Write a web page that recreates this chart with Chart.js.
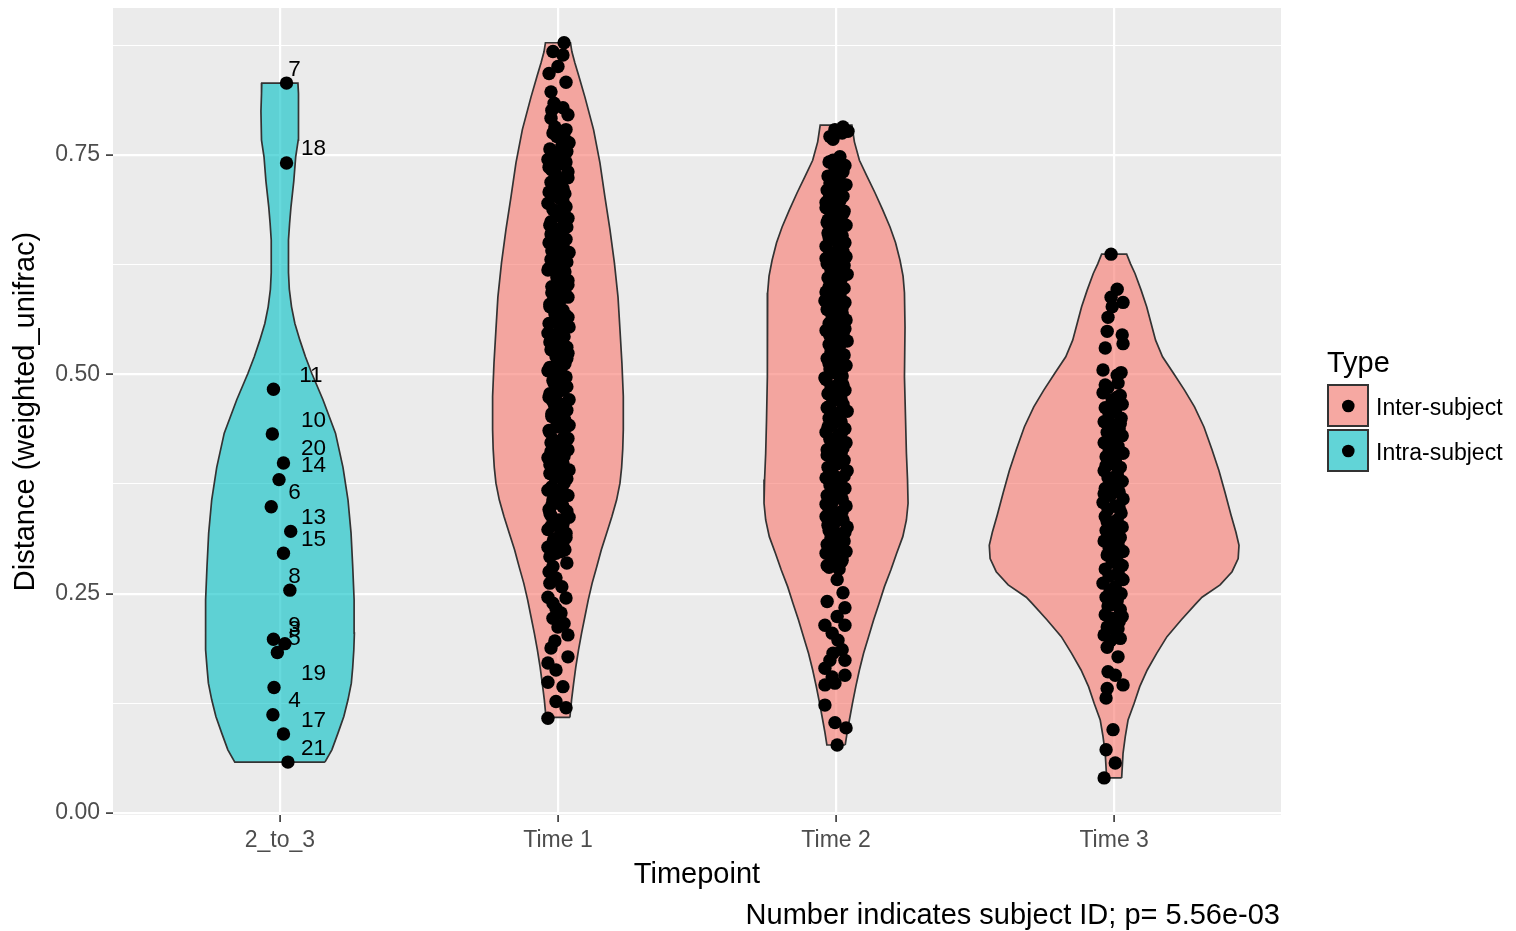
<!DOCTYPE html>
<html>
<head>
<meta charset="utf-8">
<script src="https://cdn.jsdelivr.net/npm/chart.js@4.4.1/dist/chart.umd.min.js"></script>
<style>
  html, body { margin: 0; padding: 0; background: #ffffff; }
  #wrap { width: 1516px; height: 931px; position: relative; }
  canvas { display: block; }
</style>
</head>
<body>
<div id="wrap"><canvas id="c" width="1516" height="931"></canvas></div>
<script>
// ---------------- DATA ----------------
const categories = ['2_to_3', 'Time 1', 'Time 2', 'Time 3'];
const yTickValues = [0, 0.25, 0.5, 0.75];
const yTickLabels = ['0.00', '0.25', '0.50', '0.75'];
const yMinorValues = [0.125, 0.375, 0.625, 0.875];
const legendTitle = 'Type';
const legendTypes = ['Inter-subject', 'Intra-subject'];
const xTitle = 'Timepoint';
const yTitle = 'Distance (weighted_unifrac)';
const captionText = 'Number indicates subject ID; p= 5.56e-03';

// Violin density outlines: distance levels and half widths (x-axis units)
const violinIntraLevels = [0.058,0.072,0.091,0.110,0.129,0.148,0.166,0.186,0.205,0.243,0.281,0.319,0.357,0.394,0.433,0.471,0.501,0.520,0.539,0.558,0.577,0.597,0.616,0.635,0.653,0.672,0.691,0.720,0.748,0.767,0.800,0.820,0.832];
const violinIntraHalf   = [0.162,0.187,0.209,0.230,0.245,0.257,0.262,0.266,0.268,0.267,0.262,0.256,0.245,0.227,0.200,0.155,0.115,0.092,0.072,0.054,0.042,0.034,0.031,0.031,0.031,0.035,0.040,0.050,0.057,0.066,0.068,0.066,0.065];

const violinT1Levels = [0.109,0.129,0.147,0.166,0.186,0.205,0.224,0.243,0.262,0.280,0.300,0.319,0.338,0.357,0.376,0.394,0.415,0.437,0.475,0.513,0.551,0.588,0.627,0.665,0.702,0.741,0.779,0.816,0.840,0.855,0.868,0.878];
const violinT1Half   = [0.043,0.049,0.056,0.064,0.074,0.085,0.097,0.109,0.123,0.139,0.156,0.175,0.194,0.211,0.223,0.229,0.233,0.235,0.235,0.230,0.223,0.216,0.203,0.187,0.169,0.151,0.128,0.097,0.075,0.061,0.050,0.045];

const violinT2Levels = [0.0775,0.092,0.106,0.125,0.144,0.163,0.182,0.201,0.220,0.239,0.258,0.277,0.296,0.315,0.334,0.353,0.380,0.410,0.448,0.497,0.554,0.593,0.612,0.630,0.650,0.668,0.688,0.707,0.726,0.744,0.765,0.784];
const violinT2Half   = [0.033,0.040,0.048,0.059,0.071,0.084,0.099,0.117,0.135,0.155,0.174,0.197,0.218,0.240,0.253,0.259,0.257,0.253,0.250,0.246,0.248,0.246,0.241,0.230,0.214,0.194,0.167,0.140,0.111,0.084,0.066,0.057];

const violinT3Levels = [0.040,0.068,0.087,0.106,0.125,0.144,0.163,0.182,0.201,0.220,0.239,0.246,0.260,0.275,0.290,0.305,0.320,0.340,0.365,0.390,0.414,0.440,0.463,0.482,0.501,0.520,0.539,0.558,0.577,0.596,0.615,0.626,0.637];
const violinT3Half   = [0.027,0.032,0.040,0.050,0.072,0.092,0.119,0.153,0.190,0.241,0.295,0.316,0.381,0.424,0.446,0.449,0.438,0.420,0.399,0.377,0.352,0.323,0.289,0.253,0.214,0.174,0.149,0.133,0.117,0.097,0.075,0.059,0.045];

// Intra-subject distances (2_to_3) with subject IDs
const intraIds    = ['7','18','11','10','20','14','6','13','15','8','9','3','5','19','4','17','21'];
const intraY      = [0.832,0.741,0.483,0.432,0.399,0.380,0.349,0.321,0.296,0.254,0.198,0.193,0.183,0.143,0.112,0.090,0.058];
const intraJitter = [0.024,0.024,-0.023,-0.027,0.013,-0.003,-0.031,0.039,0.013,0.036,-0.023,0.018,-0.009,-0.021,-0.025,0.013,0.029];

// Inter-subject distances, Time 1
const time1Y = [
  0.878,0.868,0.864,0.851,0.843,0.833,0.822,0.809,0.804,0.801,
  0.796,0.792,0.782,0.776,0.775,0.768,0.764,0.757,0.752,0.748,
  0.745,0.742,0.736,0.731,0.727,0.722,0.716,0.712,0.708,0.704,
  0.701,0.695,0.691,0.688,0.684,0.681,0.678,0.674,0.670,0.666,
  0.662,0.658,0.654,0.650,0.647,0.643,0.639,0.635,0.631,0.628,
  0.624,0.621,0.619,0.615,0.611,0.607,0.604,0.600,0.597,0.593,
  0.588,0.584,0.580,0.577,0.573,0.569,0.565,0.562,0.558,0.554,
  0.550,0.547,0.543,0.539,0.535,0.531,0.528,0.524,0.520,0.516,
  0.512,0.508,0.504,0.500,0.497,0.493,0.490,0.486,0.482,0.478,
  0.474,0.471,0.467,0.463,0.459,0.455,0.452,0.448,0.444,0.442,
  0.440,0.436,0.434,0.429,0.425,0.422,0.418,0.414,0.410,0.405,
  0.402,0.399,0.395,0.391,0.387,0.383,0.379,0.376,0.372,0.368,
  0.365,0.362,0.358,0.357,0.353,0.349,0.346,0.342,0.337,0.334,
  0.331,0.327,0.323,0.319,0.316,0.312,0.309,0.308,0.303,0.300,
  0.296,0.292,0.285,0.275,0.268,0.258,0.246,0.245,0.239,0.228,
  0.222,0.212,0.203,0.196,0.188,0.178,0.171,0.163,0.149,0.144,
  0.127,0.120,0.108,
  0.779,0.771,0.760,0.754,0.739,0.733,0.724,0.719,0.706,0.697,
  0.686,0.676,0.668,0.660,0.652,0.641,0.633,0.626,0.617,0.609,
  0.602,0.595,0.586,0.575,0.567,0.556,0.545,0.537,0.526,0.518,
  0.510,0.502,0.495,0.488,0.480,0.469,0.461,0.450,0.438,0.427,
  0.420,0.412,0.407,0.397,0.389,0.381,0.370,0.360,0.351,0.344,
  0.339,0.329,0.321,0.314,0.305,0.298,0.281,0.262,0.233,0.216
];
const time1Jitter = [
  0.022,-0.018,0.018,0.000,-0.032,0.029,-0.025,-0.014,0.018,-0.022,
  0.036,-0.025,-0.011,0.011,-0.018,0.025,0.040,-0.029,-0.022,0.007,
  -0.036,0.029,-0.032,0.036,-0.007,0.018,-0.007,0.018,-0.032,-0.018,
  0.004,-0.036,0.029,-0.018,0.018,-0.004,0.036,-0.025,-0.029,0.007,
  0.011,-0.014,0.029,-0.032,-0.014,0.022,0.040,-0.007,-0.025,0.032,
  0.018,-0.032,-0.036,0.004,-0.004,0.036,0.029,-0.022,0.007,-0.022,
  0.036,-0.004,-0.029,-0.029,0.018,-0.011,0.036,-0.007,-0.032,0.040,
  0.011,-0.036,0.022,0.011,-0.018,0.032,-0.025,0.036,-0.007,0.000,
  0.025,-0.029,-0.036,0.014,0.029,-0.018,-0.014,0.032,0.018,-0.029,
  -0.032,0.040,0.004,-0.011,0.032,-0.022,-0.022,0.025,0.011,0.040,
  -0.007,-0.032,-0.029,0.022,-0.014,-0.025,0.014,0.036,-0.018,-0.036,
  0.004,0.018,-0.011,0.040,-0.029,-0.011,0.025,0.022,-0.022,-0.036,
  0.007,0.036,-0.007,-0.018,0.014,0.018,-0.032,-0.029,0.040,0.004,
  -0.011,-0.025,-0.036,0.029,0.007,-0.014,-0.018,0.018,-0.036,0.025,
  -0.007,-0.029,0.032,-0.032,-0.007,0.014,-0.036,0.029,-0.018,0.011,
  -0.018,0.000,0.036,-0.011,-0.025,0.036,-0.036,-0.007,-0.036,0.018,
  -0.007,0.029,-0.036,
  0.029,-0.004,0.014,0.032,0.000,-0.022,0.036,-0.025,0.025,0.018,
  0.000,0.022,0.032,-0.025,-0.004,-0.022,0.011,-0.011,0.025,0.018,
  0.036,0.025,0.011,0.000,0.029,0.004,-0.014,-0.029,0.007,0.032,
  -0.004,-0.018,-0.007,0.004,0.000,-0.018,0.018,0.004,0.025,0.036,
  -0.004,-0.025,0.022,-0.029,0.007,0.032,0.014,0.018,-0.022,0.032,
  -0.025,0.018,0.011,0.029,0.004,0.011,-0.018,-0.029,-0.007,0.022
];

// Inter-subject distances, Time 2
const time2Y = [
  0.782,0.779,0.777,0.775,0.771,0.768,0.748,0.744,0.738,0.735,
  0.731,0.726,0.722,0.718,0.714,0.710,0.706,0.701,0.698,0.694,
  0.690,0.686,0.681,0.678,0.673,0.670,0.666,0.661,0.658,0.654,
  0.650,0.646,0.642,0.638,0.634,0.630,0.626,0.622,0.618,0.614,
  0.610,0.606,0.602,0.598,0.594,0.590,0.586,0.582,0.578,0.574,
  0.570,0.566,0.562,0.558,0.554,0.550,0.546,0.542,0.538,0.534,
  0.530,0.526,0.522,0.518,0.514,0.510,0.506,0.502,0.498,0.494,
  0.490,0.486,0.482,0.478,0.474,0.470,0.466,0.462,0.458,0.454,
  0.450,0.446,0.442,0.438,0.434,0.430,0.426,0.422,0.418,0.414,
  0.410,0.406,0.402,0.398,0.394,0.390,0.386,0.382,0.378,0.374,
  0.370,0.366,0.362,0.358,0.354,0.350,0.346,0.342,0.338,0.334,
  0.330,0.326,0.322,0.318,0.314,0.310,0.306,0.302,0.298,0.294,
  0.290,0.286,0.282,0.278,0.266,0.251,0.241,0.234,0.224,0.214,
  0.214,0.205,0.197,0.186,0.182,0.174,0.174,0.165,0.157,0.155,
  0.148,0.146,0.123,0.103,0.097,0.0775,
  0.742,0.733,0.724,0.716,0.708,0.703,0.696,0.688,0.683,0.676,
  0.668,0.663,0.656,0.648,0.640,0.632,0.624,0.616,0.608,0.600,
  0.592,0.584,0.576,0.568,0.560,0.552,0.544,0.536,0.528,0.520,
  0.512,0.504,0.496,0.488,0.480,0.472,0.464,0.456,0.448,0.440,
  0.432,0.424,0.416,0.408,0.400,0.392,0.384,0.376,0.368,0.360,
  0.352,0.344,0.336,0.328,0.320,0.312,0.304,0.296,0.288,0.280
];
const time2Jitter = [
  0.025,-0.004,0.043,0.022,-0.022,-0.011,0.014,-0.011,0.032,-0.004,
  0.025,-0.029,0.011,-0.022,0.022,-0.032,0.004,-0.025,0.014,-0.011,
  -0.036,0.029,-0.018,0.007,-0.032,0.036,-0.007,-0.029,0.022,-0.014,
  0.032,-0.036,0.007,-0.022,0.036,-0.004,-0.032,0.018,-0.018,0.040,
  -0.029,0.004,-0.011,0.029,-0.036,0.014,-0.022,0.032,-0.004,-0.032,
  0.022,-0.014,0.036,-0.025,0.007,-0.036,0.025,-0.007,0.040,-0.025,
  0.011,-0.018,0.029,-0.032,0.004,0.036,-0.022,-0.007,0.022,-0.036,
  0.011,-0.018,0.032,-0.029,0.004,-0.011,0.025,-0.032,0.040,-0.004,
  -0.025,0.018,-0.014,0.032,-0.036,0.007,-0.022,0.036,-0.007,-0.032,
  0.018,-0.018,0.029,0.004,-0.029,0.040,-0.011,-0.036,0.014,-0.022,
  0.032,-0.004,-0.032,0.022,-0.014,0.036,-0.025,0.007,-0.036,0.025,
  -0.007,0.040,-0.025,0.011,-0.018,0.029,-0.032,0.004,0.036,-0.022,
  -0.004,0.018,-0.032,0.011,0.004,0.025,-0.032,0.032,0.004,-0.040,
  0.032,-0.014,0.007,0.022,-0.011,-0.022,0.032,-0.040,0.032,-0.014,
  -0.004,-0.040,-0.040,-0.004,0.036,0.004,
  -0.025,0.011,-0.014,0.036,-0.011,0.025,-0.036,0.007,0.025,-0.029,
  0.018,0.004,-0.025,0.011,0.025,-0.036,0.029,0.004,0.018,-0.025,
  0.007,-0.040,0.022,0.004,-0.018,0.032,-0.022,0.018,-0.014,0.011,
  -0.025,0.018,-0.040,0.025,-0.004,0.018,-0.022,0.011,0.004,-0.029,
  0.018,0.000,0.025,-0.032,0.011,-0.018,0.029,-0.007,-0.014,0.011,
  -0.036,0.022,0.007,-0.029,0.032,-0.007,0.018,-0.036,0.022,-0.025
];

// Inter-subject distances, Time 3
const time3Y = [
  0.637,0.597,0.588,0.582,0.577,0.565,0.549,0.545,0.535,0.530,
  0.505,0.499,0.490,0.485,0.479,0.476,0.471,0.466,0.462,0.458,
  0.454,0.450,0.446,0.442,0.438,0.434,0.430,0.426,0.422,0.418,
  0.414,0.410,0.406,0.402,0.398,0.394,0.390,0.386,0.382,0.378,
  0.374,0.370,0.366,0.362,0.358,0.354,0.350,0.346,0.342,0.338,
  0.334,0.330,0.326,0.322,0.318,0.314,0.310,0.306,0.302,0.298,
  0.294,0.290,0.286,0.282,0.278,0.274,0.270,0.266,0.262,0.258,
  0.254,0.250,0.246,0.242,0.238,0.232,0.226,0.222,0.218,0.212,
  0.208,0.203,0.199,0.196,0.189,0.178,0.161,0.157,0.146,0.142,
  0.131,0.095,0.072,0.057,0.040,
  0.502,0.488,0.474,0.456,0.444,0.428,0.412,0.396,0.380,0.364,
  0.348,0.332,0.316,0.300,0.284,0.268,0.252,0.236,0.224,0.210
];
const time3Jitter = [
  -0.011,0.011,-0.011,0.032,-0.007,-0.022,-0.025,0.029,0.032,-0.032,
  -0.040,0.011,0.014,-0.022,-0.040,0.022,-0.007,0.029,-0.032,0.004,
  -0.018,0.025,-0.036,0.000,0.018,-0.025,0.029,-0.011,-0.036,0.014,
  -0.018,0.032,-0.029,0.004,-0.011,0.022,-0.036,0.011,-0.022,0.029,
  -0.007,-0.032,0.018,-0.014,0.032,-0.040,0.004,-0.022,0.025,-0.032,
  0.011,-0.011,0.029,-0.029,0.000,0.022,-0.036,0.014,-0.018,0.032,
  -0.025,0.007,-0.007,0.029,-0.032,0.014,-0.018,0.032,-0.040,0.004,
  -0.014,0.025,-0.029,0.011,-0.004,0.022,-0.032,-0.007,0.018,-0.025,
  0.004,-0.036,0.022,-0.014,-0.025,0.014,-0.022,0.004,0.032,-0.025,
  -0.029,-0.004,-0.029,0.004,-0.036,
  0.025,-0.032,0.011,-0.011,0.022,-0.004,0.011,-0.029,0.004,-0.036,
  0.018,-0.025,-0.014,-0.007,0.018,0.022,-0.007,-0.022,0.029,0.014
];

// ---------------- STYLE ----------------
const FONT = '"Liberation Sans", Arial, Helvetica, sans-serif';
const PINK = 'rgba(248,118,109,0.6)';
const TEAL = 'rgba(0,191,196,0.6)';
const OUTLINE = '#333333';
const PANEL_BG = '#EBEBEB';

// ---------------- BUILDERS ----------------
function violinPolygon(center, levels, half) {
  const pts = [];
  for (let i = 0; i < levels.length; i++) pts.push({ x: center + half[i], y: levels[i] });
  for (let i = levels.length - 1; i >= 0; i--) pts.push({ x: center - half[i], y: levels[i] });
  pts.push({ x: center + half[0], y: levels[0] });
  return pts;
}
function jittered(center, ys, jit) {
  return ys.map((v, i) => ({ x: center + (jit[i] || 0), y: v }));
}
function violinDataset(data, color) {
  return {
    type: 'line', data, fill: 'shape', backgroundColor: color,
    borderColor: OUTLINE, borderWidth: 1.7, pointRadius: 0, pointHoverRadius: 0,
    tension: 0, order: 5
  };
}
function pointsDataset(data) {
  return {
    type: 'scatter', data, backgroundColor: '#000000', borderWidth: 0,
    pointRadius: 6.7, pointHoverRadius: 6.7, order: 1
  };
}

const allYTicks = [...yTickValues, ...yMinorValues].sort((a, b) => a - b);
const isMajorY = v => yTickValues.some(t => Math.abs(t - v) < 1e-9);

const panelBg = {
  id: 'panelBg',
  beforeDraw(chart) {
    const { ctx, chartArea: a } = chart;
    ctx.save();
    ctx.fillStyle = '#ffffff';
    ctx.fillRect(0, 0, chart.width, chart.height);
    ctx.fillStyle = PANEL_BG;
    ctx.fillRect(a.left, a.top, a.right - a.left, a.bottom - a.top);
    ctx.restore();
  }
};

const annotations = {
  id: 'annotations',
  afterDatasetsDraw(chart) {
    const { ctx, scales: { x, y } } = chart;
    ctx.save();
    ctx.fillStyle = '#000000';
    ctx.font = '22.5px ' + FONT;
    ctx.textAlign = 'left';
    ctx.textBaseline = 'alphabetic';
    const anchor = x.getPixelForValue(1) - 4;
    intraIds.forEach((id, i) => {
      const w = ctx.measureText(id).width;
      const py = y.getPixelForValue(intraY[i]);
      ctx.fillText(id, anchor + w, py - 7.5);
    });
    ctx.restore();
  },
  afterDraw(chart) {
    const { ctx, chartArea: a } = chart;
    ctx.save();
    ctx.fillStyle = '#000000';
    ctx.textBaseline = 'alphabetic';
    ctx.font = '29px ' + FONT;
    // x title
    ctx.textAlign = 'center';
    ctx.fillText(xTitle, (a.left + a.right) / 2, 883);
    // caption
    ctx.textAlign = 'right';
    ctx.fillText(captionText, a.right - 1, 924);
    // y title
    ctx.save();
    ctx.translate(33.5, (a.top + a.bottom) / 2);
    ctx.rotate(-Math.PI / 2);
    ctx.textAlign = 'center';
    ctx.fillText(yTitle, 0, 0);
    ctx.restore();
    // legend
    ctx.textAlign = 'left';
    ctx.fillText(legendTitle, 1327, 372);
    const keys = [{ top: 384, color: PINK }, { top: 429, color: TEAL }];
    ctx.font = '23px ' + FONT;
    keys.forEach((k, i) => {
      ctx.fillStyle = '#F2F2F2';
      ctx.fillRect(1327, k.top, 42, 43);
      ctx.fillStyle = k.color;
      ctx.fillRect(1328, k.top + 1, 40, 41);
      ctx.strokeStyle = OUTLINE;
      ctx.lineWidth = 2;
      ctx.strokeRect(1328, k.top + 1, 40, 41);
      ctx.fillStyle = '#000000';
      ctx.beginPath();
      ctx.arc(1348.3, k.top + 22, 6.3, 0, Math.PI * 2);
      ctx.fill();
      ctx.fillText(legendTypes[i], 1376, k.top + 31);
    });
    ctx.restore();
  }
};

Chart.defaults.font.family = FONT;

new Chart(document.getElementById('c'), {
  type: 'scatter',
  data: {
    datasets: [
      pointsDataset(jittered(1, intraY, intraJitter)),
      pointsDataset(jittered(2, time1Y, time1Jitter)),
      pointsDataset(jittered(3, time2Y, time2Jitter)),
      pointsDataset(jittered(4, time3Y, time3Jitter)),
      violinDataset(violinPolygon(1, violinIntraLevels, violinIntraHalf), TEAL),
      violinDataset(violinPolygon(2, violinT1Levels, violinT1Half), PINK),
      violinDataset(violinPolygon(3, violinT2Levels, violinT2Half), PINK),
      violinDataset(violinPolygon(4, violinT3Levels, violinT3Half), PINK)
    ]
  },
  options: {
    responsive: false,
    animation: false,
    devicePixelRatio: 1,
    events: [],
    layout: { padding: { left: 0, top: 8, right: 235, bottom: 0 } },
    plugins: { legend: { display: false }, tooltip: { enabled: false } },
    scales: {
      x: {
        type: 'linear', min: 0.4, max: 4.6,
        afterBuildTicks(scale) { scale.ticks = categories.map((c, i) => ({ value: i + 1 })); },
        afterFit(scale) { scale.height = 116; scale.paddingLeft = 0; scale.paddingRight = 0; },
        ticks: {
          autoSkip: false, maxRotation: 0, padding: 5, color: '#4D4D4D',
          font: { size: 23, family: FONT },
          callback: v => categories[Math.round(v) - 1]
        },
        grid: { color: '#ffffff', lineWidth: 2.2, tickLength: 7, tickColor: OUTLINE, tickWidth: 1.6 },
        border: { display: false }
      },
      y: {
        type: 'linear', min: -0.0023, max: 0.9176,
        afterBuildTicks(scale) { scale.ticks = allYTicks.map(v => ({ value: v })); },
        afterFit(scale) { scale.width = 113; scale.paddingTop = 0; scale.paddingBottom = 0; },
        ticks: {
          autoSkip: false, padding: 6, color: '#4D4D4D',
          font: { size: 23, family: FONT },
          callback: v => { const i = yTickValues.findIndex(t => Math.abs(t - v) < 1e-9); return i >= 0 ? yTickLabels[i] : ''; }
        },
        grid: {
          color: '#ffffff',
          lineWidth: c => (c.tick && isMajorY(c.tick.value)) ? 2.2 : 1.1,
          tickLength: 7,
          tickColor: c => (c.tick && isMajorY(c.tick.value)) ? OUTLINE : 'rgba(0,0,0,0)',
          tickWidth: 1.6
        },
        border: { display: false }
      }
    }
  },
  plugins: [panelBg, annotations]
});
</script>
</body>
</html>
